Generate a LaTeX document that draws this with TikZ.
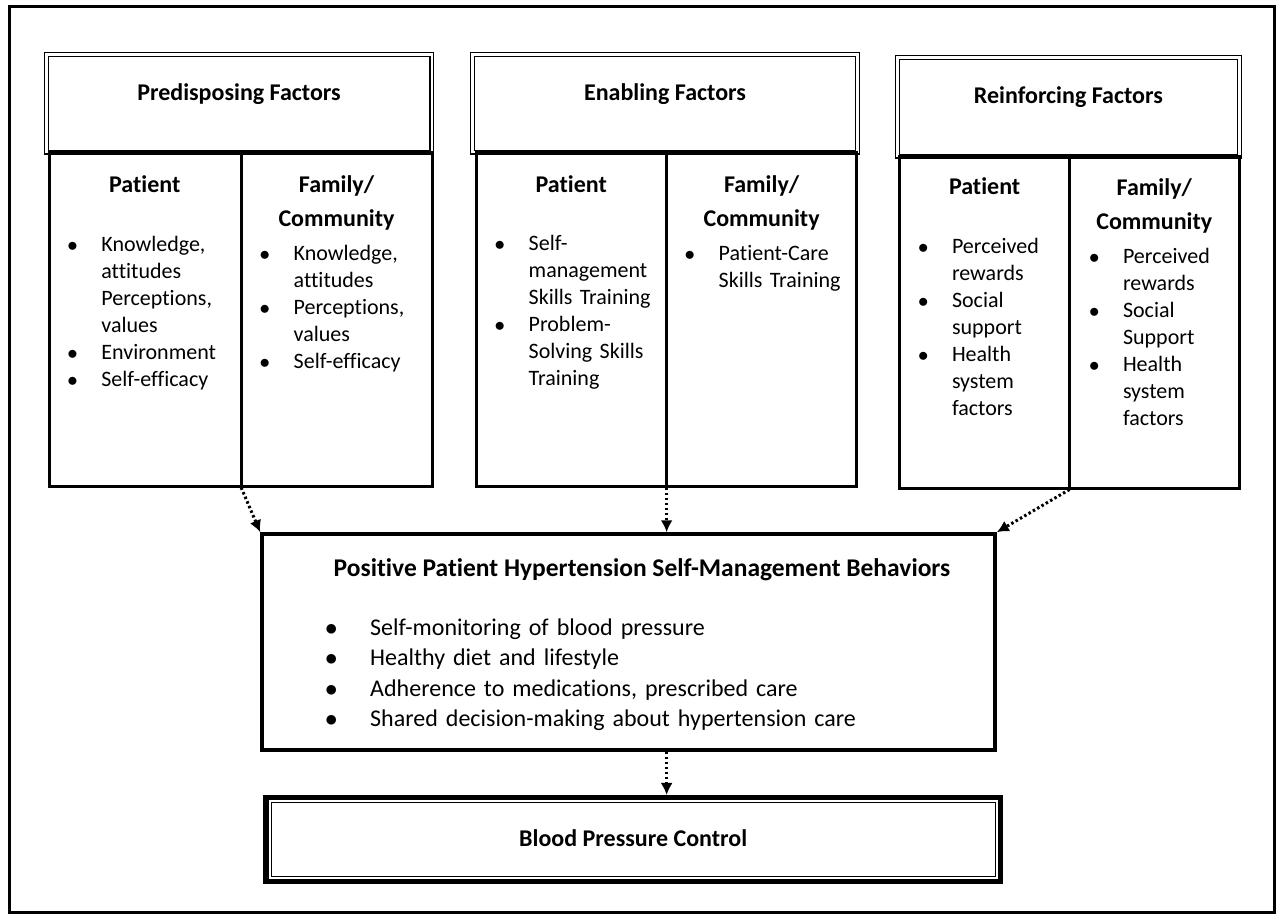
\documentclass[tikz,border=0pt]{standalone}
\usepackage{fontspec}
\setmainfont{Carlito}[Ligatures=NoCommon]
\usepackage{tikz}
\usetikzlibrary{positioning,arrows.meta}
\newlength{\bli}
\setlength{\bli}{34pt}
\newcommand{\bl}[1]{\noindent\hangindent=\bli\hangafter=1\makebox[\bli][l]{$\bullet$}{\let\\\newline#1}\par}
\newcommand{\txt}{\fontsize{22}{27}\selectfont}
\tikzstyle{frm} = [rectangle, draw, line width=3pt, inner sep=0pt]
\tikzstyle{hd} = [rectangle, draw, line width=1.2pt, double, double distance=2.6pt, inner sep=0pt]
\tikzstyle{cl} = [rectangle, draw, line width=3pt, inner sep=0pt]
\tikzstyle{ttl} = [anchor=base, inner sep=0pt, align=center, font=\fontsize{24}{34}\selectfont\bfseries]
\tikzstyle{lst} = [anchor=base west, inner sep=0pt, text width=180pt, align=left, font=\txt]
\tikzstyle{dots} = [line width=3pt, dash pattern=on 2.5pt off 2.5pt, -{Latex[length=12pt,width=12pt]}]

\begin{document}
\begin{tikzpicture}[x=1pt,y=-1pt]
\useasboundingbox (0,0) rectangle (1280,914);
\node(frame)[frm, minimum width=1264.8pt, minimum height=905.7pt] at (641.9,459.2) {};

% predisposing factors
\node(PF)[hd, minimum width=385.3pt, minimum height=97.5pt] at (239.15,103.25) {};
\node(PFb)[cl, minimum width=382.7pt, minimum height=334pt] at (241.15,319) {};
\node(PFt)[ttl] at (239,100) {Predisposing Factors};
\node(PFp)[ttl] at (144.7,192.5) {Patient};
\node(PFf)[ttl] at (336.5,226.5) {Family/\\Community};
\node(PFpl)[lst] at (67.2,251.5) {\bl{Knowledge,\\attitudes\\Perceptions,\\values}\bl{Environment}\bl{Self-efficacy}};
\node(PFfl)[lst] at (259.5,260.5) {\bl{Knowledge,\\attitudes}\bl{Perceptions,\\values}\bl{Self-efficacy}};

% enabling factors
\node(EF)[hd, minimum width=385pt, minimum height=97.8pt] at (665,103.1) {};
\node(EFb)[cl, minimum width=380.3pt, minimum height=334pt] at (666.65,319) {};
\node(EFt)[ttl] at (665,100) {Enabling Factors};
\node(EFp)[ttl] at (571.2,192.7) {Patient};
\node(EFf)[ttl] at (761.6,226.7) {Family/\\Community};
\node(EFpl)[lst] at (494.5,250) {\bl{Self-\\management\\Skills Training}\bl{Problem-\\Solving Skills\\Training}};
\node(EFfl)[lst] at (684.5,260) {\bl{Patient-Care\\Skills Training}};

% reinforcing factors
\node(RF)[hd, minimum width=341.7pt, minimum height=98.5pt] at (1068.35,106.75) {};
\node(RFb)[cl, minimum width=339.4pt, minimum height=332pt] at (1069.5,322) {};
\node(RFt)[ttl] at (1068.4,103.3) {Reinforcing Factors};
\node(RFp)[ttl] at (984.6,194.5) {Patient};
\node(RFf)[ttl] at (1154.3,229.5) {Family/\\Community};
\node(RFpl)[lst] at (917.8,253) {\bl{Perceived\\rewards}\bl{Social\\support}\bl{Health\\system\\factors}};
\node(RFfl)[lst] at (1088.8,263) {\bl{Perceived\\rewards}\bl{Social\\Support}\bl{Health\\system\\factors}};

\draw[line width=3pt](PFb.north)--(PFb.south);
\draw[line width=3pt](EFb.north)--(EFb.south);
\draw[line width=3pt](RFb.north)--(RFb.south);

% behaviours
\node(PB)[cl, line width=3.5pt, minimum width=733pt, minimum height=216pt] at (628.5,642) {};
\node(PBt)[ttl, font=\fontsize{25.5}{30}\selectfont\bfseries] at (642,576.7) {Positive Patient Hypertension Self-Management Behaviors};
\node(PBl)[lst, text width=560pt, font=\fontsize{24}{30.5}\selectfont] at (325,635) {\setlength{\bli}{45pt}\bl{Self-monitoring of blood pressure}\bl{Healthy diet and lifestyle}\bl{Adherence to medications, prescribed care}\bl{Shared decision-making about hypertension care}};

% outcome
\node(BP)[cl, line width=6.5pt, minimum width=733.3pt, minimum height=82.6pt] at (633.2,839.5) {};
\draw[hd, line width=1pt, double distance=1.8pt]([shift={(6.3,6.3)}]BP.north west) rectangle ([shift={(-6.3,-6.3)}]BP.south east);
\node(BPt)[ttl] at (633.2,846.7) {Blood Pressure Control};

\draw[dots](PFb.south)--(PB.north west);
\draw[dots](EFb.south)--(EFb.south|-PB.north);
\draw[dots](RFb.south)--(PB.north east);
\draw[dots](PB.south-|EFb.south)--(BP.north-|EFb.south);
\end{tikzpicture}
\end{document}
